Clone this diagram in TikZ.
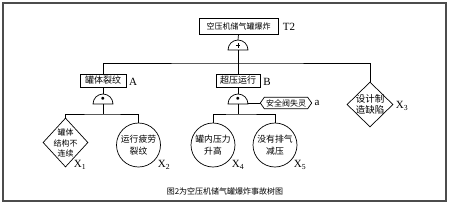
\documentclass[tikz,border=0pt]{standalone}
\usepackage{fontspec}
\setmainfont{Liberation Serif}
\newfontfamily\cjk{Noto Sans CJK SC}
\usetikzlibrary{shapes.geometric}
\tikzset{
  x=1pt, y=-1pt,
  ln/.style={line width=0.7pt},
  evbox/.style={draw, line width=0.7pt, inner sep=0pt, font=\cjk\fontsize{8}{10}\selectfont},
  basic/.style={circle, draw, line width=0.7pt, minimum size=44pt, inner sep=0pt, align=center, font=\cjk\fontsize{8.8}{12}\selectfont},
  dia/.style={diamond, draw, line width=0.7pt, inner sep=0pt},
  ctext/.style={align=center, inner sep=0pt, font=\cjk\fontsize{8}{10.5}\selectfont},
  lab/.style={inner sep=0pt, font=\fontsize{11}{12}\selectfont},
  gsym/.style={inner sep=0pt, font=\fontsize{7}{7}\selectfont},
}
\newcommand{\gatedome}[1]{%
  \draw[ln] (#1) ++(-10,0) .. controls +(0,-5.5) and +(-5.5,0) .. ++(10,-10)
    .. controls +(5.5,0) and +(0,-5.5) .. ++(10,10) -- cycle;}
\begin{document}
\begin{tikzpicture}
\useasboundingbox (0,0) rectangle (450,204);
% frame
\draw[line width=1.2pt, black!70] (3,3) rectangle (446,201);

% top event
\node[evbox, minimum width=79pt, minimum height=16pt] (t2) at (238.5,26) {空压机储气罐爆炸};
\node[lab] (t2l) at (289,27) {T2};
% OR gate
\coordinate (g0) at (238,50);
\gatedome{g0}
\coordinate (g0s) at (238,45.5);
\draw[line width=0.5pt] ([xshift=-2.2pt]g0s) -- ([xshift=2.2pt]g0s) ([yshift=-2.2pt]g0s) -- ([yshift=2.2pt]g0s);
\coordinate (g0t) at (238,40);
\draw[ln] (t2.south) -- (g0t);

% intermediate events
\node[evbox, minimum width=46pt, minimum height=13pt, font=\cjk\fontsize{9}{10}\selectfont] (a) at (103,80.5) {罐体裂纹};
\node[lab] (al) at (133,82) {A};
\node[evbox, minimum width=44pt, minimum height=13pt, font=\cjk\fontsize{9}{10}\selectfont] (b) at (238,80.5) {超压运行};
\node[lab] (bl) at (267,82) {B};
\node[dia, minimum width=46pt, minimum height=45pt] (x3) at (370,104.5) {};
\node[ctext, font=\cjk\fontsize{9.5}{11}\selectfont] (x3t) at (370,104.5) {设计制\\造缺陷};
\node[lab] (x3l) at (402,106) {X\textsubscript{3}};

\coordinate (h0) at (238,63);
\draw[ln] (g0) -- (b.north);
\draw[ln] (a.north) |- (h0) -| (x3.north);

% AND gate under A
\coordinate (ga) at (103,104);
\gatedome{ga}
\node[gsym] (gas) at (103,99) {$\bullet$};
\coordinate (gat) at (103,94);
\draw[ln] (a.south) -- (gat);
\coordinate (ha) at (103,114);
\draw[ln] (ga) -- (ha);

\node[dia, minimum width=45pt, minimum height=49pt] (x1) at (65.5,142.5) {};
\node[ctext] (x1t) at (65.5,143) {罐体\\结构不\\连续};
\node[lab] (x1l) at (80,165) {X\textsubscript{1}};
\node[basic] (x2) at (138.5,145) {运行疲劳\\裂纹};
\node[lab] (x2l) at (164,165) {X\textsubscript{2}};
\draw[ln] (x1.north) |- (ha) -| (x2.north);

% AND gate under B
\coordinate (gb) at (238,104);
\gatedome{gb}
\node[gsym] (gbs) at (238,99) {$\bullet$};
\coordinate (gbt) at (238,94);
\draw[ln] (b.south) -- (gbt);
\coordinate (hb) at (238,114);
\draw[ln] (gb) -- (hb);

% condition hexagon
\node[inner sep=0pt, minimum width=43pt, minimum height=11pt, font=\cjk\fontsize{8}{10}\selectfont] (c) at (286,103) {安全阀失灵};
\draw[ln] ([xshift=-4pt]c.west) -- (c.north west) -- (c.north east) -- ([xshift=4pt]c.east) -- (c.south east) -- (c.south west) -- cycle;
\coordinate (gbr) at (247.5,103);
\coordinate (cw) at ([xshift=-4pt]c.west);
\draw[ln] (gbr) -- (cw);
\node[lab] (cl) at (317,103) {a};

\node[basic] (x4) at (213,145) {罐内压力\\升高};
\node[lab] (x4l) at (238,165) {X\textsubscript{4}};
\node[basic] (x5) at (275,145) {没有排气\\减压};
\node[lab] (x5l) at (300,165) {X\textsubscript{5}};
\draw[ln] (x4.north) |- (hb) -| (x5.north);

% caption
\node[inner sep=0pt, font=\cjk\fontsize{8}{10}\selectfont] (cap) at (225,191) {图2为空压机储气罐爆炸事故树图};
\end{tikzpicture}
\end{document}
